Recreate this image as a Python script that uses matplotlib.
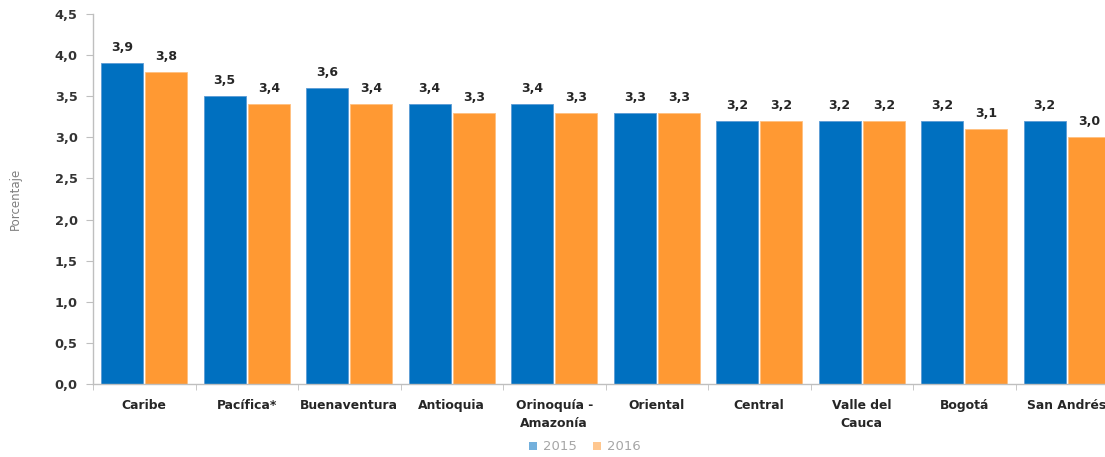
import matplotlib.pyplot as plt
import numpy as np

regions = ["Caribe", "Pacífica*", "Buenaventura", "Antioquia", "Orinoquía -\nAmazonía",
           "Oriental", "Central", "Valle del\nCauca", "Bogotá", "San Andrés"]
vals_2015 = [3.9, 3.5, 3.6, 3.4, 3.4, 3.3, 3.2, 3.2, 3.2, 3.2]
vals_2016 = [3.8, 3.4, 3.4, 3.3, 3.3, 3.3, 3.2, 3.2, 3.1, 3.0]
yticks = np.arange(0, 4.51, 0.5)

blue = "#0070C0"
orange = "#FF9933"
grid_gray = "#BFBFBF"
text_dark = "#262626"

fig = plt.figure(figsize=(11.05, 4.57), dpi=100)
# axes run a bit past the right edge, so the last group is clipped
ax = fig.add_axes([93 / 1105, 73 / 457, 1025 / 1105, 370 / 457])

x = np.arange(len(regions))
w = 0.41
off = 0.215
b1 = ax.bar(x - off, vals_2015, w, color=blue, edgecolor="#5B9BD5", linewidth=0.6, label="2015")
b2 = ax.bar(x + off, vals_2016, w, color=orange, edgecolor="#FFC080", linewidth=0.6, label="2016")

for bars, vals in ((b1, vals_2015), (b2, vals_2016)):
    for r, v in zip(bars, vals):
        ax.text(r.get_x() + r.get_width() / 2, v + 0.11, f"{v:.1f}".replace(".", ","),
                ha="center", va="bottom", fontsize=9, fontweight="bold", color=text_dark)

ax.set_xlim(-0.5, len(regions) - 0.5)
ax.set_ylim(0, 4.5)
ax.set_yticks(yticks)
ax.set_yticklabels([f"{t:.1f}".replace(".", ",") for t in yticks],
                   fontsize=9.3, fontweight="bold", color="#333333")

ax.set_xticks(x)
ax.set_xticklabels(regions, fontsize=8.9, fontweight="bold", color=text_dark, linespacing=1.5)
ax.tick_params(axis="x", length=0, pad=11)
# small tick marks between groups on the category axis
ax.set_xticks(np.arange(-0.5, len(regions), 1), minor=True)
ax.tick_params(axis="x", which="minor", length=4, color=grid_gray, direction="out")
ax.tick_params(axis="y", length=5, color=grid_gray, direction="out", pad=6)

for s in ("top", "right"):
    ax.spines[s].set_visible(False)
for s in ("left", "bottom"):
    ax.spines[s].set_color(grid_gray)
    ax.spines[s].set_linewidth(1.0)

ax.set_ylabel("Porcentaje", fontsize=8.5, color="#7F7F7F", labelpad=24)

leg = fig.legend(handles=[b1, b2], labels=["2015", "2016"], loc="center",
                 bbox_to_anchor=(585 / 1105, 1 - 447 / 457), ncol=2, frameon=False,
                 fontsize=9.5, handlelength=0.6, handleheight=0.6, handletextpad=0.5,
                 columnspacing=1.2)
for t in leg.get_texts():
    t.set_color("#A6A6A6")
for h in leg.legend_handles:
    h.set_alpha(0.55)
    h.set_linewidth(0)

fig.savefig("out.png", dpi=100)
